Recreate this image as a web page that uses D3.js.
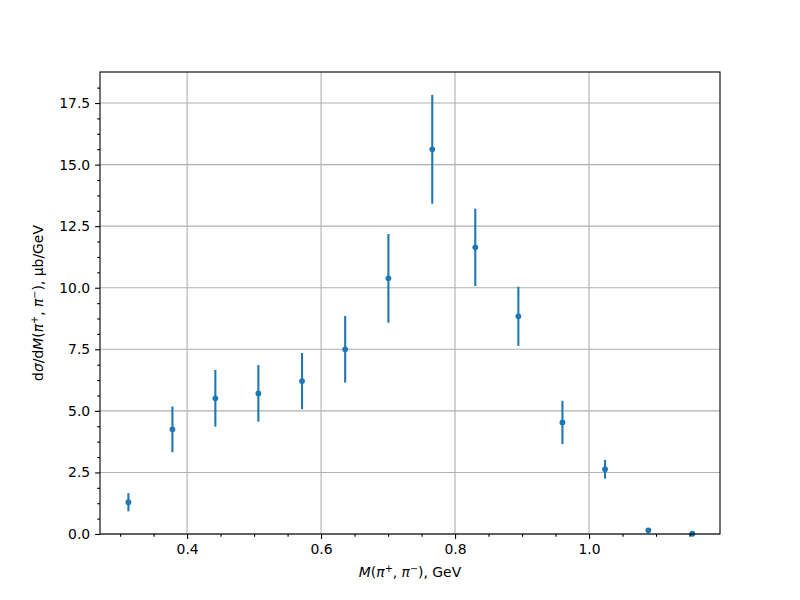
<!DOCTYPE html>
<meta charset="utf-8">
<script src="https://d3js.org/d3.v7.min.js"></script>
<style>
  body { margin: 0; background: #fff; }
  text { font-family: "DejaVu Sans", sans-serif; }
</style>
<div id="my_dataviz"></div>
<script>

// data: bin centre (GeV), cross section, error
var mass  = [0.3124, 0.3781, 0.4422, 0.5064, 0.5716, 0.6360, 0.7005, 0.7660, 0.8302, 0.8945, 0.9603, 1.0239, 1.0885, 1.1542];
var xsec  = [1.29, 4.25, 5.51, 5.71, 6.21, 7.50, 10.38, 15.62, 11.64, 8.84, 4.53, 2.63, 0.15, 0.01];
var err   = [0.37, 0.93, 1.15, 1.15, 1.14, 1.35, 1.80, 2.21, 1.57, 1.20, 0.88, 0.38, 0.03, 0.01];
var xTicks = [0.4, 0.6, 0.8, 1.0];
var yTicks = [0, 2.5, 5.0, 7.5, 10.0, 12.5, 15.0, 17.5];

var margin = {top: 72, right: 80, bottom: 66, left: 100},
    width = 800 - margin.left - margin.right,
    height = 600 - margin.top - margin.bottom;

var svg = d3.select("#my_dataviz")
  .append("svg")
    .attr("width", 800)
    .attr("height", 600)
  .append("g")
    .attr("transform", "translate(" + margin.left + "," + margin.top + ")");

var data = mass.map(function(m, i) { return {m: m, v: xsec[i], e: err[i]}; });

var x = d3.scaleLinear().domain([0.270, 1.1955]).range([0, width]);
var y = d3.scaleLinear().domain([0, 18.76]).range([height, 0]);

var color = "#1f77b4";

// grid
svg.append("g").selectAll("line").data(xTicks).enter().append("line")
  .attr("x1", function(d) { return x(d); }).attr("x2", function(d) { return x(d); })
  .attr("y1", 0).attr("y2", height)
  .attr("stroke", "#b0b0b0").attr("stroke-width", 1.1);
svg.append("g").selectAll("line").data(yTicks).enter().append("line")
  .attr("y1", function(d) { return y(d); }).attr("y2", function(d) { return y(d); })
  .attr("x1", 0).attr("x2", width)
  .attr("stroke", "#b0b0b0").attr("stroke-width", 1.1);

// error bars
svg.append("g").selectAll("line").data(data).enter().append("line")
  .attr("x1", function(d) { return x(d.m); }).attr("x2", function(d) { return x(d.m); })
  .attr("y1", function(d) { return y(d.v - d.e); })
  .attr("y2", function(d) { return y(d.v + d.e); })
  .attr("stroke", color).attr("stroke-width", 2.1);

// points
svg.append("g").selectAll("circle").data(data).enter().append("circle")
  .attr("cx", function(d) { return x(d.m); })
  .attr("cy", function(d) { return y(d.v); })
  .attr("r", 2.9)
  .attr("fill", color);

// minor ticks
var xMinor = d3.range(0.30, 1.19, 0.05).filter(function(v) {
  return Math.abs(v * 5 - Math.round(v * 5)) > 1e-6;
});
var yMinor = d3.range(0.625, 18.7, 0.625).filter(function(v) {
  return Math.abs(v / 2.5 - Math.round(v / 2.5)) > 1e-6;
});

var xAxis = svg.append("g")
  .attr("transform", "translate(0," + height + ")")
  .call(d3.axisBottom(x).tickValues(xTicks).tickSize(4.9).tickPadding(4.9).tickFormat(d3.format(".1f")));
var xMin = svg.append("g")
  .attr("transform", "translate(0," + height + ")")
  .call(d3.axisBottom(x).tickValues(xMinor).tickSize(2.8).tickFormat(""));
var yAxis = svg.append("g")
  .call(d3.axisLeft(y).tickValues(yTicks).tickSize(4.9).tickPadding(4.9).tickFormat(d3.format(".1f")));
var yMin = svg.append("g")
  .call(d3.axisLeft(y).tickValues(yMinor).tickSize(2.8).tickFormat(""));

[xAxis, xMin, yAxis, yMin].forEach(function(g) {
  g.select(".domain").remove();
  g.selectAll(".tick line").attr("stroke", "#000").attr("stroke-width", 1.1);
  g.selectAll(".tick text").attr("font-family", "DejaVu Sans").attr("font-size", 13.9).attr("fill", "#000");
});

// frame
svg.append("rect")
  .attr("x", 0).attr("y", 0).attr("width", width).attr("height", height)
  .attr("fill", "none").attr("stroke", "#000").attr("stroke-width", 1.1);

// x label
var xl = svg.append("text")
  .attr("x", width / 2).attr("y", height + 43)
  .attr("text-anchor", "middle")
  .attr("font-size", 13.9);
xl.append("tspan").attr("font-style", "italic").text("M");
xl.append("tspan").text("(");
xl.append("tspan").attr("font-style", "italic").text("π");
xl.append("tspan").attr("font-size", 9.7).attr("dy", -5).text("+");
xl.append("tspan").attr("dy", 5).text(", ");
xl.append("tspan").attr("font-style", "italic").text("π");
xl.append("tspan").attr("font-size", 9.7).attr("dy", -5).text("−");
xl.append("tspan").attr("dy", 5).text("), GeV");

// y label
var yl = svg.append("text")
  .attr("transform", "translate(" + (-57) + "," + (height / 2) + ") rotate(-90)")
  .attr("text-anchor", "middle")
  .attr("font-size", 13.9);
yl.append("tspan").text("d");
yl.append("tspan").attr("font-style", "italic").text("σ");
yl.append("tspan").text("/d");
yl.append("tspan").attr("font-style", "italic").text("M");
yl.append("tspan").text("(");
yl.append("tspan").attr("font-style", "italic").text("π");
yl.append("tspan").attr("font-size", 9.7).attr("dy", -5).text("+");
yl.append("tspan").attr("dy", 5).text(", ");
yl.append("tspan").attr("font-style", "italic").text("π");
yl.append("tspan").attr("font-size", 9.7).attr("dy", -5).text("−");
yl.append("tspan").attr("dy", 5).text("), μb/GeV");

</script>
